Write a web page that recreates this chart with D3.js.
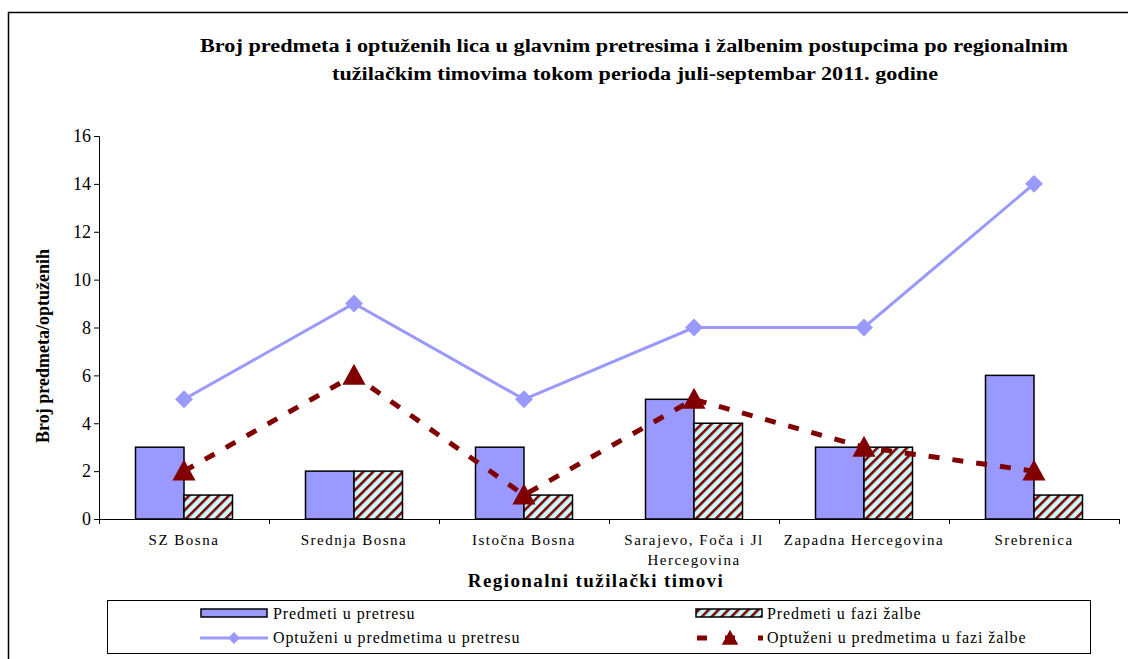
<!DOCTYPE html>
<html>
<head>
<meta charset="utf-8">
<script src="https://cdn.jsdelivr.net/npm/d3@7"></script>
<style>
  html, body { margin: 0; padding: 0; background: #fff; }
  svg { display: block; }
  text { font-family: "Liberation Serif", "Times New Roman", serif; fill: #000; }
</style>
</head>
<body>
<svg id="chart" width="1128" height="659"></svg>
<script>
const categories = ["SZ Bosna", "Srednja Bosna", "Istočna Bosna", "Sarajevo, Foča i Jl|Hercegovina", "Zapadna Hercegovina", "Srebrenica"];
const predmetiPretres = [3, 2, 3, 5, 3, 6];
const predmetiZalba = [1, 2, 1, 4, 3, 1];
const optuzeniPretres = [5, 9, 5, 8, 8, 14];
const optuzeniZalba = [2, 6, 1, 5, 3, 2];
const yTicks = [0, 2, 4, 6, 8, 10, 12, 14, 16];
const seriesNames = ["Predmeti u pretresu", "Predmeti u fazi žalbe", "Optuženi u predmetima u pretresu", "Optuženi u predmetima u fazi žalbe"];
const titleLines = ["Broj predmeta i optuženih lica u glavnim pretresima i žalbenim postupcima po regionalnim", "tužilačkim timovima tokom perioda juli-septembar 2011. godine"];
const yAxisTitle = "Broj predmeta/optuženih";
const xAxisTitle = "Regionalni tužilački timovi";

(function () {
const svg = d3.select("#chart");
const blue = "#9999ff", darkRed = "#800000", cyan = "#ccffff";

// hatch pattern
const defs = svg.append("defs");
const pat = defs.append("pattern").attr("id", "hatch").attr("patternUnits", "userSpaceOnUse")
  .attr("width", 7).attr("height", 7).attr("patternTransform", "rotate(45)");
pat.append("rect").attr("width", 7).attr("height", 7).attr("fill", cyan);
pat.append("rect").attr("x", 0).attr("width", 2.6).attr("height", 7).attr("fill", darkRed);

// outer frame
svg.append("path").attr("d", "M8.5,659 V12.5 H1128").attr("fill", "none").attr("stroke", "#000").attr("stroke-width", 1.5);

// title (source image is horizontally stretched)
svg.append("text").attr("x", 200).attr("y", 52)
  .attr("textLength", 868).attr("lengthAdjust", "spacingAndGlyphs")
  .style("font-weight", "bold").style("font-size", "18px").text(titleLines[0]);
svg.append("text").attr("x", 332).attr("y", 80)
  .attr("textLength", 606).attr("lengthAdjust", "spacingAndGlyphs")
  .style("font-weight", "bold").style("font-size", "18px").text(titleLines[1]);

const mLeft = 99, mRight = 1119, mTop = 136, mBottom = 519;
const x = d3.scaleBand().domain(categories).range([mLeft, mRight]).padding(0);
const y = d3.scaleLinear().domain([0, 16]).range([mBottom, mTop]);
const bw = 48.5;
const x1 = d3.scaleBand().domain([0, 1]).range([x.bandwidth() / 2 - bw, x.bandwidth() / 2 + bw]).padding(0);

// y axis
const yAxis = svg.append("g").attr("transform", `translate(${mLeft},0)`)
  .call(d3.axisLeft(y).tickValues(yTicks).tickSize(5).tickPadding(3));
yAxis.select(".domain").attr("stroke", "#000");
yAxis.selectAll("text").style("font-size", "18px").style("font-family", "Liberation Serif");

// x axis with ticks at category boundaries
const xLin = d3.scaleLinear().domain([0, categories.length]).range([mLeft, mRight]);
const xAxis = svg.append("g").attr("transform", `translate(0,${mBottom})`)
  .call(d3.axisBottom(xLin).tickValues(d3.range(categories.length + 1)).tickSize(5).tickFormat(""));
xAxis.select(".domain").attr("stroke", "#000");

// category labels
categories.forEach(c => {
  const parts = c.split("|");
  const t = svg.append("text").attr("x", x(c) + x.bandwidth() / 2).attr("y", 545)
    .attr("text-anchor", "middle").style("font-size", "15px").style("letter-spacing", "1.5px");
  parts.forEach((p, i) => t.append("tspan").attr("x", x(c) + x.bandwidth() / 2).attr("dy", i === 0 ? 0 : 20).text(p));
});

// axis titles
svg.append("text").attr("x", 596).attr("y", 587).attr("text-anchor", "middle")
  .style("font-weight", "bold").style("font-size", "19px").style("letter-spacing", "1.4px").text(xAxisTitle);
svg.append("text").attr("transform", `translate(49,346) rotate(-90)`).attr("text-anchor", "middle")
  .style("font-weight", "bold").style("font-size", "18px").text(yAxisTitle);

// bars
const groups = svg.append("g").selectAll("g").data(categories).join("g")
  .attr("transform", d => `translate(${x(d)},0)`);
groups.append("rect").attr("x", x1(0)).attr("width", bw)
  .attr("y", (d, i) => y(predmetiPretres[i])).attr("height", (d, i) => y(0) - y(predmetiPretres[i]))
  .attr("fill", blue).attr("stroke", "#000").attr("stroke-width", 1.5);
groups.append("rect").attr("x", x1(1)).attr("width", bw)
  .attr("y", (d, i) => y(predmetiZalba[i])).attr("height", (d, i) => y(0) - y(predmetiZalba[i]))
  .attr("fill", "url(#hatch)").attr("stroke", "#000").attr("stroke-width", 1.5);

const cx = d => x(d) + x.bandwidth() / 2;

// line 1
const line1 = d3.line().x((d, i) => cx(categories[i])).y(d => y(d));
svg.append("path").datum(optuzeniPretres).attr("d", line1).attr("fill", "none").attr("stroke", blue).attr("stroke-width", 3);
svg.append("g").selectAll("path").data(optuzeniPretres).join("path")
  .attr("d", d3.symbol(d3.symbolSquare, 160)())
  .attr("transform", (d, i) => `translate(${cx(categories[i])},${y(d)}) rotate(45)`)
  .attr("fill", blue);

// line 2
svg.append("path").datum(optuzeniZalba).attr("d", line1).attr("fill", "none").attr("stroke", darkRed)
  .attr("stroke-width", 5).attr("stroke-dasharray", "11,13");
const tri = (s) => `M0,${-s * 0.55} L${s * 0.55},${s * 0.45} L${-s * 0.55},${s * 0.45} Z`;
svg.append("g").selectAll("path").data(optuzeniZalba).join("path")
  .attr("d", tri(21))
  .attr("transform", (d, i) => `translate(${cx(categories[i])},${y(d)})`)
  .attr("fill", darkRed);

// legend
const lg = svg.append("g");
lg.append("rect").attr("x", 107.5).attr("y", 600.5).attr("width", 983).attr("height", 53)
  .attr("fill", "none").attr("stroke", "#000").attr("stroke-width", 1);
lg.append("rect").attr("x", 201).attr("y", 609).attr("width", 66).attr("height", 8)
  .attr("fill", blue).attr("stroke", "#000").attr("stroke-width", 1.5);
lg.append("rect").attr("x", 696).attr("y", 609).attr("width", 66).attr("height", 8)
  .attr("fill", "url(#hatch)").attr("stroke", "#000").attr("stroke-width", 1.5);
lg.append("line").attr("x1", 200).attr("x2", 268).attr("y1", 638).attr("y2", 638).attr("stroke", blue).attr("stroke-width", 3);
lg.append("path").attr("d", d3.symbol(d3.symbolSquare, 70)()).attr("transform", "translate(234,638) rotate(45)").attr("fill", blue);
lg.append("line").attr("x1", 697).attr("x2", 763).attr("y1", 638).attr("y2", 638).attr("stroke", darkRed)
  .attr("stroke-width", 5).attr("stroke-dasharray", "10,18,10,23,5");
lg.append("path").attr("d", tri(15)).attr("transform", "translate(730,638)").attr("fill", darkRed);
const legTexts = [[273, 619, seriesNames[0]], [767, 619, seriesNames[1]], [273, 643, seriesNames[2]], [767, 643, seriesNames[3]]];
legTexts.forEach(([lx, ly, t]) => lg.append("text").attr("x", lx).attr("y", ly)
  .style("font-size", "16px").style("letter-spacing", "0.9px").text(t));
})();
</script>
</body>
</html>
